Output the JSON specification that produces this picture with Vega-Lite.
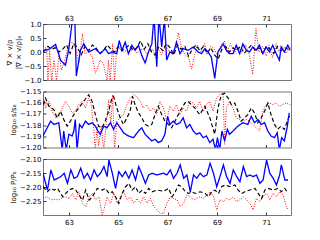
{
"$schema": "https://vega.github.io/schema/vega-lite/v6.json",
"padding": {"left": 4, "top": 13, "right": 5, "bottom": 5},
"spacing": 11.5,
"bounds": "flush",
"config": {
 "view": {"stroke": "#777", "strokeWidth": 1},
 "axis": {"labelFont": "DejaVu Sans", "labelFontSize": 7, "titleFont": "DejaVu Sans", "titleFontSize": 7, "titleFontWeight": "normal", "grid": false, "domain": false, "tickColor": "#333", "tickSize": -3, "labelColor": "#000", "titleColor": "#000", "minExtent": 0},
 "axisX": {"labelPadding": 6},
 "axisY": {"labelPadding": 5, "titlePadding": 3}
},
"datasets": {
"top": [
{"s":"r","x":61.95,"y":0.24},{"s":"r","x":62.1,"y":0.12},{"s":"r","x":62.15,"y":-1.05},{"s":"r","x":62.22,"y":0.06},{"s":"r","x":62.3,"y":-1.05},{"s":"r","x":62.4,"y":-0.29},{"s":"r","x":62.5,"y":-1.05},{"s":"r","x":62.6,"y":-0.06},{"s":"r","x":62.7,"y":-0.65},{"s":"r","x":62.85,"y":-0.24},{"s":"r","x":63.0,"y":0.29},{"s":"r","x":63.15,"y":0.35},{"s":"r","x":63.3,"y":0.06},{"s":"r","x":63.4,"y":-0.41},{"s":"r","x":63.55,"y":0.65},{"s":"r","x":63.65,"y":-0.06},{"s":"r","x":63.8,"y":0.0},{"s":"r","x":63.95,"y":-0.18},{"s":"r","x":64.07,"y":-0.76},{"s":"r","x":64.18,"y":-0.53},{"s":"r","x":64.27,"y":-0.29},{"s":"r","x":64.4,"y":-0.41},{"s":"r","x":64.55,"y":-1.05},{"s":"r","x":64.6,"y":-0.29},{"s":"r","x":64.67,"y":-1.05},{"s":"r","x":64.77,"y":0.29},{"s":"r","x":64.85,"y":-1.05},{"s":"r","x":64.94,"y":0.18},{"s":"r","x":65.08,"y":0.12},{"s":"r","x":65.2,"y":0.0},{"s":"r","x":65.35,"y":0.06},{"s":"r","x":65.48,"y":0.0},{"s":"r","x":65.62,"y":0.18},{"s":"r","x":65.75,"y":-0.06},{"s":"r","x":65.88,"y":0.06},{"s":"r","x":66.02,"y":0.12},{"s":"r","x":66.15,"y":-0.06},{"s":"r","x":66.28,"y":0.0},{"s":"r","x":66.4,"y":0.1},{"s":"r","x":66.5,"y":-0.2},{"s":"r","x":66.6,"y":0.15},{"s":"r","x":66.75,"y":-0.1},{"s":"r","x":66.9,"y":0.2},{"s":"r","x":67.05,"y":0.05},{"s":"r","x":67.2,"y":-0.1},{"s":"r","x":67.35,"y":0.3},{"s":"r","x":67.44,"y":0.68},{"s":"r","x":67.55,"y":0.2},{"s":"r","x":67.7,"y":-0.1},{"s":"r","x":67.85,"y":-0.2},{"s":"r","x":67.97,"y":-0.61},{"s":"r","x":68.1,"y":-0.1},{"s":"r","x":68.2,"y":0.25},{"s":"r","x":68.35,"y":0.0},{"s":"r","x":68.5,"y":0.3},{"s":"r","x":68.6,"y":-0.1},{"s":"r","x":68.75,"y":0.2},{"s":"r","x":68.9,"y":0.1},{"s":"r","x":69.0,"y":-0.1},{"s":"r","x":69.15,"y":0.2},{"s":"r","x":69.3,"y":0.4},{"s":"r","x":69.4,"y":0.0},{"s":"r","x":69.55,"y":0.3},{"s":"r","x":69.7,"y":-0.05},{"s":"r","x":69.85,"y":0.2},{"s":"r","x":70.0,"y":0.0},{"s":"r","x":70.15,"y":0.25},{"s":"r","x":70.3,"y":-0.05},{"s":"r","x":70.45,"y":-0.8},{"s":"r","x":70.58,"y":0.85},{"s":"r","x":70.7,"y":0.0},{"s":"r","x":70.85,"y":0.2},{"s":"r","x":71.0,"y":-0.15},{"s":"r","x":71.1,"y":0.25},{"s":"r","x":71.25,"y":-0.2},{"s":"r","x":71.4,"y":0.3},{"s":"r","x":71.5,"y":0.0},{"s":"r","x":71.65,"y":0.2},{"s":"r","x":71.8,"y":-0.05},{"s":"r","x":71.97,"y":0.15},
{"s":"k","x":61.95,"y":0.0},{"s":"k","x":62.15,"y":0.2},{"s":"k","x":62.3,"y":0.1},{"s":"k","x":62.45,"y":0.15},{"s":"k","x":62.6,"y":0.0},{"s":"k","x":62.75,"y":0.1},{"s":"k","x":62.9,"y":0.25},{"s":"k","x":63.05,"y":-0.05},{"s":"k","x":63.2,"y":0.3},{"s":"k","x":63.35,"y":0.15},{"s":"k","x":63.5,"y":-0.1},{"s":"k","x":63.65,"y":0.2},{"s":"k","x":63.8,"y":0.05},{"s":"k","x":63.95,"y":0.25},{"s":"k","x":64.1,"y":0.15},{"s":"k","x":64.25,"y":-0.05},{"s":"k","x":64.4,"y":0.05},{"s":"k","x":64.55,"y":0.25},{"s":"k","x":64.7,"y":0.1},{"s":"k","x":64.85,"y":0.0},{"s":"k","x":65.0,"y":0.2},{"s":"k","x":65.15,"y":0.05},{"s":"k","x":65.3,"y":0.15},{"s":"k","x":65.45,"y":0.25},{"s":"k","x":65.6,"y":0.05},{"s":"k","x":65.75,"y":0.15},{"s":"k","x":65.9,"y":0.4},{"s":"k","x":66.05,"y":0.1},{"s":"k","x":66.2,"y":0.3},{"s":"k","x":66.35,"y":0.0},{"s":"k","x":66.5,"y":-0.1},{"s":"k","x":66.65,"y":0.2},{"s":"k","x":66.8,"y":0.05},{"s":"k","x":66.95,"y":0.3},{"s":"k","x":67.1,"y":0.15},{"s":"k","x":67.25,"y":-0.1},{"s":"k","x":67.4,"y":0.25},{"s":"k","x":67.55,"y":0.1},{"s":"k","x":67.7,"y":0.2},{"s":"k","x":67.85,"y":-0.15},{"s":"k","x":68.0,"y":0.1},{"s":"k","x":68.15,"y":0.25},{"s":"k","x":68.3,"y":0.05},{"s":"k","x":68.45,"y":0.2},{"s":"k","x":68.6,"y":-0.05},{"s":"k","x":68.75,"y":0.15},{"s":"k","x":68.9,"y":-0.1},{"s":"k","x":69.05,"y":-0.25},{"s":"k","x":69.2,"y":0.1},{"s":"k","x":69.35,"y":0.2},{"s":"k","x":69.5,"y":0.0},{"s":"k","x":69.65,"y":0.15},{"s":"k","x":69.8,"y":0.05},{"s":"k","x":69.95,"y":0.2},{"s":"k","x":70.1,"y":-0.05},{"s":"k","x":70.25,"y":0.1},{"s":"k","x":70.4,"y":0.25},{"s":"k","x":70.55,"y":0.05},{"s":"k","x":70.7,"y":0.15},{"s":"k","x":70.85,"y":-0.05},{"s":"k","x":71.0,"y":0.2},{"s":"k","x":71.15,"y":0.1},{"s":"k","x":71.3,"y":-0.05},{"s":"k","x":71.45,"y":0.2},{"s":"k","x":71.6,"y":0.05},{"s":"k","x":71.75,"y":0.15},{"s":"k","x":71.9,"y":0.1},
{"s":"b","x":61.95,"y":0.04},{"s":"b","x":62.2,"y":0.1},{"s":"b","x":62.46,"y":0.27},{"s":"b","x":62.66,"y":-0.29},{"s":"b","x":62.86,"y":-0.47},{"s":"b","x":63.0,"y":0.12},{"s":"b","x":63.16,"y":1.3},{"s":"b","x":63.24,"y":1.2},{"s":"b","x":63.3,"y":-0.86},{"s":"b","x":63.47,"y":0.06},{"s":"b","x":63.6,"y":0.29},{"s":"b","x":63.8,"y":0.0},{"s":"b","x":64.07,"y":0.12},{"s":"b","x":64.27,"y":-0.06},{"s":"b","x":64.47,"y":0.12},{"s":"b","x":64.61,"y":-0.06},{"s":"b","x":64.74,"y":0.0},{"s":"b","x":64.94,"y":-0.06},{"s":"b","x":65.04,"y":0.41},{"s":"b","x":65.15,"y":0.06},{"s":"b","x":65.28,"y":0.35},{"s":"b","x":65.41,"y":-0.06},{"s":"b","x":65.55,"y":0.24},{"s":"b","x":65.68,"y":0.06},{"s":"b","x":65.82,"y":0.24},{"s":"b","x":65.95,"y":-0.12},{"s":"b","x":66.09,"y":-0.39},{"s":"b","x":66.22,"y":0.0},{"s":"b","x":66.36,"y":0.29},{"s":"b","x":66.45,"y":1.3},{"s":"b","x":66.56,"y":-0.53},{"s":"b","x":66.65,"y":1.3},{"s":"b","x":66.76,"y":0.18},{"s":"b","x":66.87,"y":1.2},{"s":"b","x":66.96,"y":-0.29},{"s":"b","x":67.09,"y":0.0},{"s":"b","x":67.23,"y":-0.06},{"s":"b","x":67.36,"y":0.35},{"s":"b","x":67.5,"y":-0.06},{"s":"b","x":67.63,"y":0.12},{"s":"b","x":67.83,"y":0.06},{"s":"b","x":68.04,"y":0.18},{"s":"b","x":68.24,"y":0.0},{"s":"b","x":68.37,"y":-0.06},{"s":"b","x":68.51,"y":0.12},{"s":"b","x":68.64,"y":0.0},{"s":"b","x":68.77,"y":-0.18},{"s":"b","x":68.91,"y":-0.94},{"s":"b","x":69.04,"y":0.0},{"s":"b","x":69.25,"y":0.29},{"s":"b","x":69.38,"y":0.06},{"s":"b","x":69.51,"y":-0.06},{"s":"b","x":69.65,"y":-0.06},{"s":"b","x":69.78,"y":0.24},{"s":"b","x":69.92,"y":-0.06},{"s":"b","x":70.05,"y":0.29},{"s":"b","x":70.19,"y":0.06},{"s":"b","x":70.32,"y":0.0},{"s":"b","x":70.45,"y":0.18},{"s":"b","x":70.59,"y":0.06},{"s":"b","x":70.72,"y":0.24},{"s":"b","x":70.86,"y":-0.06},{"s":"b","x":70.99,"y":0.18},{"s":"b","x":71.13,"y":0.0},{"s":"b","x":71.26,"y":0.24},{"s":"b","x":71.4,"y":-0.06},{"s":"b","x":71.53,"y":-0.29},{"s":"b","x":71.6,"y":0.18},{"s":"b","x":71.73,"y":0.0},{"s":"b","x":71.87,"y":0.24},{"s":"b","x":71.97,"y":0.06}
],
"mid": [
{"s":"r","x":61.95,"y":-1.1529},{"s":"r","x":62.05,"y":-1.1647},{"s":"r","x":62.19,"y":-1.1588},{"s":"r","x":62.32,"y":-1.1676},{"s":"r","x":62.46,"y":-1.1735},{"s":"r","x":62.59,"y":-1.1721},{"s":"r","x":62.73,"y":-1.1647},{"s":"r","x":62.86,"y":-1.1588},{"s":"r","x":63.0,"y":-1.1632},{"s":"r","x":63.13,"y":-1.1691},{"s":"r","x":63.26,"y":-1.1676},{"s":"r","x":63.4,"y":-1.1618},{"s":"r","x":63.53,"y":-1.1588},{"s":"r","x":63.67,"y":-1.1647},{"s":"r","x":63.8,"y":-1.1559},{"s":"r","x":63.91,"y":-1.1618},{"s":"r","x":64.0,"y":-1.1824},{"s":"r","x":64.07,"y":-1.202},{"s":"r","x":64.14,"y":-1.1809},{"s":"r","x":64.2,"y":-1.1985},{"s":"r","x":64.31,"y":-1.1809},{"s":"r","x":64.41,"y":-1.202},{"s":"r","x":64.5,"y":-1.1824},{"s":"r","x":64.61,"y":-1.1574},{"s":"r","x":64.7,"y":-1.1794},{"s":"r","x":64.77,"y":-1.1529},{"s":"r","x":64.85,"y":-1.202},{"s":"r","x":64.94,"y":-1.1765},{"s":"r","x":65.08,"y":-1.1735},{"s":"r","x":65.21,"y":-1.1706},{"s":"r","x":65.35,"y":-1.1618},{"s":"r","x":65.48,"y":-1.1559},{"s":"r","x":65.62,"y":-1.1529},{"s":"r","x":65.75,"y":-1.1544},{"s":"r","x":65.89,"y":-1.1588},{"s":"r","x":66.02,"y":-1.1647},{"s":"r","x":66.15,"y":-1.1618},{"s":"r","x":66.29,"y":-1.1676},{"s":"r","x":66.42,"y":-1.1647},{"s":"r","x":66.56,"y":-1.1706},{"s":"r","x":66.69,"y":-1.1588},{"s":"r","x":66.83,"y":-1.1647},{"s":"r","x":66.96,"y":-1.1765},{"s":"r","x":67.09,"y":-1.1632},{"s":"r","x":67.23,"y":-1.1676},{"s":"r","x":67.36,"y":-1.1618},{"s":"r","x":67.5,"y":-1.1706},{"s":"r","x":67.63,"y":-1.1647},{"s":"r","x":67.77,"y":-1.1676},{"s":"r","x":67.9,"y":-1.1588},{"s":"r","x":68.04,"y":-1.1603},{"s":"r","x":68.17,"y":-1.1647},{"s":"r","x":68.3,"y":-1.1588},{"s":"r","x":68.44,"y":-1.1676},{"s":"r","x":68.57,"y":-1.1618},{"s":"r","x":68.71,"y":-1.1588},{"s":"r","x":68.84,"y":-1.1676},{"s":"r","x":68.98,"y":-1.1559},{"s":"r","x":69.11,"y":-1.1529},{"s":"r","x":69.25,"y":-1.1515},{"s":"r","x":69.31,"y":-1.1971},{"s":"r","x":69.38,"y":-1.1647},{"s":"r","x":69.51,"y":-1.1588},{"s":"r","x":69.65,"y":-1.1647},{"s":"r","x":69.78,"y":-1.1735},{"s":"r","x":69.92,"y":-1.175},{"s":"r","x":70.05,"y":-1.1765},{"s":"r","x":70.19,"y":-1.175},{"s":"r","x":70.32,"y":-1.1765},{"s":"r","x":70.45,"y":-1.1794},{"s":"r","x":70.59,"y":-1.1824},{"s":"r","x":70.72,"y":-1.1853},{"s":"r","x":70.86,"y":-1.1676},{"s":"r","x":70.99,"y":-1.1618},{"s":"r","x":71.13,"y":-1.1603},{"s":"r","x":71.26,"y":-1.1618},{"s":"r","x":71.4,"y":-1.1603},{"s":"r","x":71.53,"y":-1.1632},{"s":"r","x":71.66,"y":-1.1618},{"s":"r","x":71.8,"y":-1.1603},{"s":"r","x":71.97,"y":-1.1618},
{"s":"k","x":61.95,"y":-1.1618},{"s":"k","x":62.05,"y":-1.1559},{"s":"k","x":62.19,"y":-1.1632},{"s":"k","x":62.39,"y":-1.1662},{"s":"k","x":62.52,"y":-1.1735},{"s":"k","x":62.66,"y":-1.1676},{"s":"k","x":62.79,"y":-1.175},{"s":"k","x":62.93,"y":-1.1809},{"s":"k","x":63.06,"y":-1.1765},{"s":"k","x":63.2,"y":-1.1706},{"s":"k","x":63.4,"y":-1.1647},{"s":"k","x":63.6,"y":-1.1588},{"s":"k","x":63.8,"y":-1.1529},{"s":"k","x":63.94,"y":-1.1588},{"s":"k","x":64.07,"y":-1.1706},{"s":"k","x":64.2,"y":-1.1809},{"s":"k","x":64.34,"y":-1.1824},{"s":"k","x":64.47,"y":-1.1765},{"s":"k","x":64.61,"y":-1.1676},{"s":"k","x":64.74,"y":-1.1559},{"s":"k","x":64.81,"y":-1.1544},{"s":"k","x":64.94,"y":-1.1647},{"s":"k","x":65.08,"y":-1.1735},{"s":"k","x":65.21,"y":-1.1794},{"s":"k","x":65.35,"y":-1.1735},{"s":"k","x":65.48,"y":-1.1676},{"s":"k","x":65.58,"y":-1.1544},{"s":"k","x":65.68,"y":-1.1618},{"s":"k","x":65.82,"y":-1.1691},{"s":"k","x":65.95,"y":-1.1735},{"s":"k","x":66.09,"y":-1.1794},{"s":"k","x":66.22,"y":-1.1809},{"s":"k","x":66.36,"y":-1.1794},{"s":"k","x":66.49,"y":-1.1706},{"s":"k","x":66.62,"y":-1.1632},{"s":"k","x":66.76,"y":-1.1706},{"s":"k","x":66.89,"y":-1.1765},{"s":"k","x":67.03,"y":-1.1794},{"s":"k","x":67.16,"y":-1.1824},{"s":"k","x":67.3,"y":-1.1765},{"s":"k","x":67.5,"y":-1.1676},{"s":"k","x":67.7,"y":-1.1603},{"s":"k","x":67.83,"y":-1.1588},{"s":"k","x":68.1,"y":-1.1647},{"s":"k","x":68.3,"y":-1.1706},{"s":"k","x":68.51,"y":-1.1632},{"s":"k","x":68.71,"y":-1.1735},{"s":"k","x":68.91,"y":-1.1882},{"s":"k","x":69.04,"y":-1.1647},{"s":"k","x":69.18,"y":-1.1529},{"s":"k","x":69.31,"y":-1.1515},{"s":"k","x":69.45,"y":-1.1559},{"s":"k","x":69.58,"y":-1.1618},{"s":"k","x":69.72,"y":-1.1603},{"s":"k","x":69.85,"y":-1.1676},{"s":"k","x":69.98,"y":-1.1765},{"s":"k","x":70.12,"y":-1.1735},{"s":"k","x":70.25,"y":-1.1706},{"s":"k","x":70.39,"y":-1.1647},{"s":"k","x":70.52,"y":-1.1691},{"s":"k","x":70.66,"y":-1.1779},{"s":"k","x":70.79,"y":-1.1735},{"s":"k","x":70.93,"y":-1.1676},{"s":"k","x":71.06,"y":-1.1603},{"s":"k","x":71.19,"y":-1.1706},{"s":"k","x":71.33,"y":-1.1794},{"s":"k","x":71.46,"y":-1.1838},{"s":"k","x":71.6,"y":-1.1809},{"s":"k","x":71.73,"y":-1.1838},{"s":"k","x":71.87,"y":-1.175},{"s":"k","x":71.97,"y":-1.1706},
{"s":"b","x":61.95,"y":-1.1897},{"s":"b","x":62.05,"y":-1.1853},{"s":"b","x":62.26,"y":-1.1765},{"s":"b","x":62.39,"y":-1.1794},{"s":"b","x":62.59,"y":-1.1779},{"s":"b","x":62.73,"y":-1.202},{"s":"b","x":62.79,"y":-1.1853},{"s":"b","x":62.89,"y":-1.202},{"s":"b","x":63.0,"y":-1.1882},{"s":"b","x":63.13,"y":-1.1897},{"s":"b","x":63.2,"y":-1.1853},{"s":"b","x":63.26,"y":-1.175},{"s":"b","x":63.33,"y":-1.202},{"s":"b","x":63.43,"y":-1.1794},{"s":"b","x":63.53,"y":-1.1824},{"s":"b","x":63.67,"y":-1.1765},{"s":"b","x":63.8,"y":-1.1794},{"s":"b","x":63.94,"y":-1.1779},{"s":"b","x":64.07,"y":-1.1809},{"s":"b","x":64.18,"y":-1.1853},{"s":"b","x":64.27,"y":-1.1882},{"s":"b","x":64.41,"y":-1.1809},{"s":"b","x":64.54,"y":-1.1824},{"s":"b","x":64.68,"y":-1.1779},{"s":"b","x":64.81,"y":-1.1838},{"s":"b","x":64.94,"y":-1.1779},{"s":"b","x":65.08,"y":-1.1824},{"s":"b","x":65.21,"y":-1.1868},{"s":"b","x":65.41,"y":-1.1897},{"s":"b","x":65.62,"y":-1.1912},{"s":"b","x":65.82,"y":-1.1853},{"s":"b","x":65.95,"y":-1.1824},{"s":"b","x":66.09,"y":-1.1882},{"s":"b","x":66.22,"y":-1.1912},{"s":"b","x":66.36,"y":-1.1941},{"s":"b","x":66.49,"y":-1.1926},{"s":"b","x":66.62,"y":-1.1956},{"s":"b","x":66.76,"y":-1.1941},{"s":"b","x":66.89,"y":-1.1882},{"s":"b","x":67.0,"y":-1.1721},{"s":"b","x":67.09,"y":-1.1794},{"s":"b","x":67.23,"y":-1.1765},{"s":"b","x":67.36,"y":-1.1794},{"s":"b","x":67.5,"y":-1.1779},{"s":"b","x":67.63,"y":-1.1735},{"s":"b","x":67.77,"y":-1.1824},{"s":"b","x":67.9,"y":-1.1794},{"s":"b","x":68.04,"y":-1.1853},{"s":"b","x":68.17,"y":-1.1882},{"s":"b","x":68.3,"y":-1.1868},{"s":"b","x":68.44,"y":-1.1912},{"s":"b","x":68.57,"y":-1.1897},{"s":"b","x":68.71,"y":-1.1956},{"s":"b","x":68.84,"y":-1.1926},{"s":"b","x":68.94,"y":-1.202},{"s":"b","x":69.02,"y":-1.1912},{"s":"b","x":69.11,"y":-1.202},{"s":"b","x":69.2,"y":-1.1853},{"s":"b","x":69.31,"y":-1.1941},{"s":"b","x":69.42,"y":-1.1838},{"s":"b","x":69.51,"y":-1.1882},{"s":"b","x":69.65,"y":-1.1853},{"s":"b","x":69.85,"y":-1.1809},{"s":"b","x":70.05,"y":-1.1779},{"s":"b","x":70.25,"y":-1.1794},{"s":"b","x":70.39,"y":-1.1721},{"s":"b","x":70.52,"y":-1.1779},{"s":"b","x":70.66,"y":-1.175},{"s":"b","x":70.79,"y":-1.1794},{"s":"b","x":70.93,"y":-1.1779},{"s":"b","x":71.06,"y":-1.1853},{"s":"b","x":71.19,"y":-1.1897},{"s":"b","x":71.33,"y":-1.1912},{"s":"b","x":71.44,"y":-1.1868},{"s":"b","x":71.53,"y":-1.202},{"s":"b","x":71.62,"y":-1.1912},{"s":"b","x":71.73,"y":-1.1941},{"s":"b","x":71.84,"y":-1.1824},{"s":"b","x":71.93,"y":-1.1691}
],
"bot": [
{"s":"r","x":61.95,"y":-2.241},{"s":"r","x":62.13,"y":-2.235},{"s":"r","x":62.27,"y":-2.246},{"s":"r","x":62.4,"y":-2.244},{"s":"r","x":62.6,"y":-2.246},{"s":"r","x":62.81,"y":-2.235},{"s":"r","x":63.01,"y":-2.241},{"s":"r","x":63.14,"y":-2.223},{"s":"r","x":63.28,"y":-2.246},{"s":"r","x":63.41,"y":-2.217},{"s":"r","x":63.55,"y":-2.258},{"s":"r","x":63.68,"y":-2.27},{"s":"r","x":63.82,"y":-2.235},{"s":"r","x":63.95,"y":-2.223},{"s":"r","x":64.08,"y":-2.246},{"s":"r","x":64.22,"y":-2.235},{"s":"r","x":64.35,"y":-2.3},{"s":"r","x":64.42,"y":-2.282},{"s":"r","x":64.55,"y":-2.235},{"s":"r","x":64.69,"y":-2.258},{"s":"r","x":64.82,"y":-2.223},{"s":"r","x":64.96,"y":-2.258},{"s":"r","x":65.09,"y":-2.235},{"s":"r","x":65.23,"y":-2.217},{"s":"r","x":65.36,"y":-2.246},{"s":"r","x":65.49,"y":-2.235},{"s":"r","x":65.63,"y":-2.258},{"s":"r","x":65.76,"y":-2.241},{"s":"r","x":65.9,"y":-2.258},{"s":"r","x":66.03,"y":-2.235},{"s":"r","x":66.17,"y":-2.258},{"s":"r","x":66.3,"y":-2.241},{"s":"r","x":66.44,"y":-2.27},{"s":"r","x":66.57,"y":-2.282},{"s":"r","x":66.7,"y":-2.294},{"s":"r","x":66.84,"y":-2.294},{"s":"r","x":66.97,"y":-2.258},{"s":"r","x":67.11,"y":-2.235},{"s":"r","x":67.24,"y":-2.241},{"s":"r","x":67.38,"y":-2.246},{"s":"r","x":67.51,"y":-2.27},{"s":"r","x":67.65,"y":-2.258},{"s":"r","x":67.78,"y":-2.229},{"s":"r","x":67.92,"y":-2.235},{"s":"r","x":68.05,"y":-2.246},{"s":"r","x":68.18,"y":-2.241},{"s":"r","x":68.32,"y":-2.235},{"s":"r","x":68.45,"y":-2.241},{"s":"r","x":68.59,"y":-2.229},{"s":"r","x":68.72,"y":-2.217},{"s":"r","x":68.86,"y":-2.235},{"s":"r","x":68.99,"y":-2.282},{"s":"r","x":69.12,"y":-2.246},{"s":"r","x":69.26,"y":-2.252},{"s":"r","x":69.39,"y":-2.241},{"s":"r","x":69.53,"y":-2.246},{"s":"r","x":69.66,"y":-2.235},{"s":"r","x":69.8,"y":-2.252},{"s":"r","x":69.93,"y":-2.246},{"s":"r","x":70.07,"y":-2.235},{"s":"r","x":70.2,"y":-2.246},{"s":"r","x":70.33,"y":-2.258},{"s":"r","x":70.47,"y":-2.282},{"s":"r","x":70.6,"y":-2.241},{"s":"r","x":70.74,"y":-2.252},{"s":"r","x":70.87,"y":-2.235},{"s":"r","x":71.01,"y":-2.223},{"s":"r","x":71.14,"y":-2.246},{"s":"r","x":71.28,"y":-2.223},{"s":"r","x":71.41,"y":-2.235},{"s":"r","x":71.54,"y":-2.217},{"s":"r","x":71.68,"y":-2.229},{"s":"r","x":71.81,"y":-2.27},{"s":"r","x":71.88,"y":-2.282},
{"s":"k","x":61.95,"y":-2.199},{"s":"k","x":62.13,"y":-2.217},{"s":"k","x":62.27,"y":-2.205},{"s":"k","x":62.4,"y":-2.211},{"s":"k","x":62.54,"y":-2.205},{"s":"k","x":62.67,"y":-2.223},{"s":"k","x":62.74,"y":-2.235},{"s":"k","x":62.87,"y":-2.223},{"s":"k","x":63.01,"y":-2.211},{"s":"k","x":63.14,"y":-2.205},{"s":"k","x":63.28,"y":-2.211},{"s":"k","x":63.41,"y":-2.229},{"s":"k","x":63.55,"y":-2.247},{"s":"k","x":63.68,"y":-2.211},{"s":"k","x":63.82,"y":-2.247},{"s":"k","x":63.95,"y":-2.235},{"s":"k","x":64.15,"y":-2.205},{"s":"k","x":64.35,"y":-2.211},{"s":"k","x":64.49,"y":-2.205},{"s":"k","x":64.62,"y":-2.223},{"s":"k","x":64.76,"y":-2.217},{"s":"k","x":64.89,"y":-2.235},{"s":"k","x":65.02,"y":-2.259},{"s":"k","x":65.16,"y":-2.223},{"s":"k","x":65.29,"y":-2.199},{"s":"k","x":65.43,"y":-2.187},{"s":"k","x":65.56,"y":-2.211},{"s":"k","x":65.7,"y":-2.199},{"s":"k","x":65.83,"y":-2.223},{"s":"k","x":65.97,"y":-2.211},{"s":"k","x":66.1,"y":-2.223},{"s":"k","x":66.23,"y":-2.205},{"s":"k","x":66.37,"y":-2.217},{"s":"k","x":66.57,"y":-2.211},{"s":"k","x":66.84,"y":-2.215},{"s":"k","x":67.04,"y":-2.205},{"s":"k","x":67.18,"y":-2.235},{"s":"k","x":67.31,"y":-2.217},{"s":"k","x":67.44,"y":-2.193},{"s":"k","x":67.58,"y":-2.199},{"s":"k","x":67.71,"y":-2.217},{"s":"k","x":67.85,"y":-2.223},{"s":"k","x":67.98,"y":-2.217},{"s":"k","x":68.12,"y":-2.223},{"s":"k","x":68.32,"y":-2.217},{"s":"k","x":68.52,"y":-2.223},{"s":"k","x":68.65,"y":-2.235},{"s":"k","x":68.79,"y":-2.217},{"s":"k","x":68.92,"y":-2.211},{"s":"k","x":69.06,"y":-2.223},{"s":"k","x":69.19,"y":-2.199},{"s":"k","x":69.33,"y":-2.193},{"s":"k","x":69.53,"y":-2.199},{"s":"k","x":69.73,"y":-2.193},{"s":"k","x":69.86,"y":-2.211},{"s":"k","x":70.0,"y":-2.223},{"s":"k","x":70.13,"y":-2.217},{"s":"k","x":70.33,"y":-2.211},{"s":"k","x":70.54,"y":-2.205},{"s":"k","x":70.67,"y":-2.223},{"s":"k","x":70.81,"y":-2.241},{"s":"k","x":70.94,"y":-2.211},{"s":"k","x":71.07,"y":-2.205},{"s":"k","x":71.28,"y":-2.211},{"s":"k","x":71.48,"y":-2.205},{"s":"k","x":71.61,"y":-2.217},{"s":"k","x":71.75,"y":-2.205},{"s":"k","x":71.88,"y":-2.223},
{"s":"b","x":61.95,"y":-2.151},{"s":"b","x":62.13,"y":-2.211},{"s":"b","x":62.27,"y":-2.139},{"s":"b","x":62.4,"y":-2.175},{"s":"b","x":62.54,"y":-2.169},{"s":"b","x":62.67,"y":-2.163},{"s":"b","x":62.81,"y":-2.151},{"s":"b","x":62.94,"y":-2.187},{"s":"b","x":63.08,"y":-2.139},{"s":"b","x":63.21,"y":-2.169},{"s":"b","x":63.34,"y":-2.163},{"s":"b","x":63.48,"y":-2.133},{"s":"b","x":63.61,"y":-2.169},{"s":"b","x":63.75,"y":-2.151},{"s":"b","x":63.88,"y":-2.175},{"s":"b","x":64.02,"y":-2.139},{"s":"b","x":64.15,"y":-2.163},{"s":"b","x":64.28,"y":-2.151},{"s":"b","x":64.42,"y":-2.127},{"s":"b","x":64.55,"y":-2.163},{"s":"b","x":64.62,"y":-2.104},{"s":"b","x":64.76,"y":-2.151},{"s":"b","x":64.89,"y":-2.205},{"s":"b","x":65.02,"y":-2.145},{"s":"b","x":65.16,"y":-2.163},{"s":"b","x":65.29,"y":-2.145},{"s":"b","x":65.43,"y":-2.169},{"s":"b","x":65.56,"y":-2.139},{"s":"b","x":65.7,"y":-2.175},{"s":"b","x":65.83,"y":-2.127},{"s":"b","x":65.97,"y":-2.157},{"s":"b","x":66.1,"y":-2.187},{"s":"b","x":66.23,"y":-2.157},{"s":"b","x":66.37,"y":-2.151},{"s":"b","x":66.57,"y":-2.157},{"s":"b","x":66.84,"y":-2.151},{"s":"b","x":66.97,"y":-2.157},{"s":"b","x":67.11,"y":-2.139},{"s":"b","x":67.24,"y":-2.169},{"s":"b","x":67.38,"y":-2.151},{"s":"b","x":67.51,"y":-2.121},{"s":"b","x":67.65,"y":-2.169},{"s":"b","x":67.78,"y":-2.157},{"s":"b","x":67.92,"y":-2.217},{"s":"b","x":68.05,"y":-2.157},{"s":"b","x":68.18,"y":-2.169},{"s":"b","x":68.32,"y":-2.151},{"s":"b","x":68.45,"y":-2.163},{"s":"b","x":68.59,"y":-2.157},{"s":"b","x":68.72,"y":-2.1155},{"s":"b","x":68.86,"y":-2.151},{"s":"b","x":68.99,"y":-2.199},{"s":"b","x":69.12,"y":-2.163},{"s":"b","x":69.26,"y":-2.121},{"s":"b","x":69.39,"y":-2.163},{"s":"b","x":69.53,"y":-2.187},{"s":"b","x":69.66,"y":-2.139},{"s":"b","x":69.8,"y":-2.163},{"s":"b","x":69.93,"y":-2.181},{"s":"b","x":70.07,"y":-2.127},{"s":"b","x":70.2,"y":-2.163},{"s":"b","x":70.33,"y":-2.157},{"s":"b","x":70.47,"y":-2.163},{"s":"b","x":70.6,"y":-2.157},{"s":"b","x":70.74,"y":-2.187},{"s":"b","x":70.87,"y":-2.175},{"s":"b","x":71.01,"y":-2.1036},{"s":"b","x":71.14,"y":-2.151},{"s":"b","x":71.28,"y":-2.169},{"s":"b","x":71.41,"y":-2.193},{"s":"b","x":71.54,"y":-2.157},{"s":"b","x":71.61,"y":-2.121},{"s":"b","x":71.75,"y":-2.175},{"s":"b","x":71.88,"y":-2.175}
]
},
"vconcat": [
{
 "width": 248, "height": 56,
 "data": {"name": "top"},
 "mark": {"type": "line", "clip": true},
 "encoding": {
  "x": {"field": "x", "type": "quantitative", "scale": {"domain": [61.95, 72.0], "nice": false, "zero": false}, "axis": {"orient": "top", "values": [63, 65, 67, 69, 71], "format": "d", "title": null}},
  "y": {"field": "y", "type": "quantitative", "scale": {"domain": [-1, 1], "nice": false, "zero": false}, "axis": {"values": [-1, -0.5, 0, 0.5, 1], "format": ".1f", "title": ["∇ × v/ρ", "|∇ × v/ρ|₀"]}},
  "color": {"field": "s", "type": "nominal", "scale": {"domain": ["r", "k", "b"], "range": ["#ff0000", "#000000", "#0000ff"]}, "legend": null},
  "strokeDash": {"field": "s", "type": "nominal", "scale": {"domain": ["r", "k", "b"], "range": [[1, 1.5], [4, 2.5], [1, 0]]}, "legend": null},
  "strokeWidth": {"field": "s", "type": "nominal", "scale": {"domain": ["r", "k", "b"], "range": [1, 1.3, 1.5]}, "legend": null}
 }
},
{
 "width": 248, "height": 56,
 "data": {"name": "mid"},
 "mark": {"type": "line", "clip": true},
 "encoding": {
  "x": {"field": "x", "type": "quantitative", "scale": {"domain": [61.95, 72.0], "nice": false, "zero": false}, "axis": {"values": [63, 65, 67, 69, 71], "labels": false, "title": null}},
  "y": {"field": "y", "type": "quantitative", "scale": {"domain": [-1.2, -1.15], "nice": false, "zero": false}, "axis": {"values": [-1.2, -1.19, -1.18, -1.17, -1.16, -1.15], "format": ".2f", "title": "log₁₀ s/s₀"}},
  "color": {"field": "s", "type": "nominal", "scale": {"domain": ["r", "k", "b"], "range": ["#ff0000", "#000000", "#0000ff"]}, "legend": null},
  "strokeDash": {"field": "s", "type": "nominal", "scale": {"domain": ["r", "k", "b"], "range": [[1, 1.5], [4, 2.5], [1, 0]]}, "legend": null},
  "strokeWidth": {"field": "s", "type": "nominal", "scale": {"domain": ["r", "k", "b"], "range": [1, 1.3, 1.5]}, "legend": null}
 }
},
{
 "width": 248, "height": 56,
 "data": {"name": "bot"},
 "mark": {"type": "line", "clip": true},
 "encoding": {
  "x": {"field": "x", "type": "quantitative", "scale": {"domain": [61.95, 72.0], "nice": false, "zero": false}, "axis": {"values": [63, 65, 67, 69, 71], "format": "d", "title": null}},
  "y": {"field": "y", "type": "quantitative", "scale": {"domain": [-2.3, -2.1], "nice": false, "zero": false}, "axis": {"values": [-2.25, -2.2, -2.15, -2.1], "format": ".2f", "title": "log₁₀ P/P₀"}},
  "color": {"field": "s", "type": "nominal", "scale": {"domain": ["r", "k", "b"], "range": ["#ff0000", "#000000", "#0000ff"]}, "legend": null},
  "strokeDash": {"field": "s", "type": "nominal", "scale": {"domain": ["r", "k", "b"], "range": [[1, 1.5], [4, 2.5], [1, 0]]}, "legend": null},
  "strokeWidth": {"field": "s", "type": "nominal", "scale": {"domain": ["r", "k", "b"], "range": [1, 1.3, 1.5]}, "legend": null}
 }
}
]
}
